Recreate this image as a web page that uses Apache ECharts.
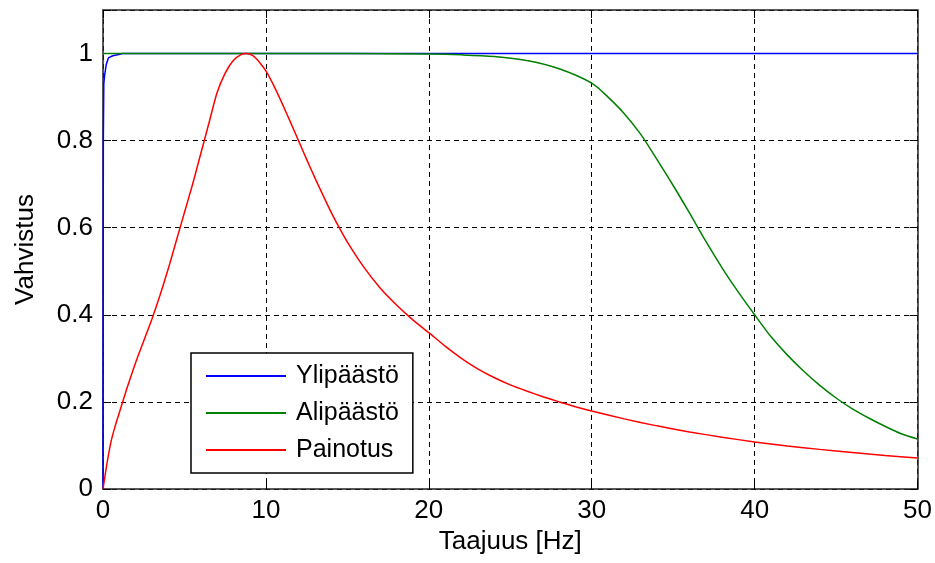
<!DOCTYPE html>
<html>
<head>
<meta charset="utf-8">
<script src="https://cdn.jsdelivr.net/npm/echarts@6/dist/echarts.min.js"></script>
<style>
html,body{margin:0;padding:0;background:#fff;}
#chart{width:935px;height:563px;}
</style>
</head>
<body>
<div id="chart"></div>
<script>
// ---- data ----
var seriesNames = ['Ylipäästö', 'Alipäästö', 'Painotus'];

var blueFreq = [0, 0.02, 0.05, 0.1, 0.2, 0.33, 0.6, 0.9, 1.2, 5, 10, 20, 30, 40, 50];
var blueGain = [0, 0.80, 0.93, 0.95, 0.975, 0.99, 0.995, 0.997, 1.0, 1.0, 1.0, 1.0, 1.0, 1.0, 1.0];

var greenFreq = [0, 5, 10, 15, 20, 22, 24, 26, 28, 30, 31, 32, 33, 34, 35, 36, 37, 38, 39, 40, 41, 42, 43, 44, 45, 46, 47, 48, 49, 50];
var greenGain = [1.0, 1.0, 1.0, 1.0, 0.999, 0.997, 0.993, 0.984, 0.965, 0.932, 0.9, 0.862, 0.815, 0.757, 0.697, 0.634, 0.569, 0.508, 0.452, 0.40, 0.35, 0.308, 0.271, 0.238, 0.209, 0.184, 0.163, 0.144, 0.127, 0.115];

var redFreq = [0, 0.25, 0.5, 0.75, 1.0, 1.25, 1.5, 2, 2.5, 3, 3.5, 4, 4.5, 5, 5.5, 6, 6.5, 7, 7.5, 8, 8.5, 8.8, 9.2, 9.6, 10, 10.5, 11, 11.5, 12, 12.5, 13, 13.5, 14, 14.5, 15, 16, 17, 18, 19, 20, 21, 22, 23, 24, 25, 26, 27, 28, 29, 30, 32, 34, 36, 38, 40, 42, 44, 46, 48, 50];
var redGain = [0, 0.06, 0.11, 0.145, 0.175, 0.205, 0.235, 0.29, 0.34, 0.39, 0.445, 0.505, 0.57, 0.635, 0.70, 0.77, 0.84, 0.91, 0.955, 0.984, 0.998, 1.0, 0.995, 0.98, 0.96, 0.925, 0.885, 0.843, 0.80, 0.757, 0.715, 0.675, 0.636, 0.60, 0.567, 0.51, 0.462, 0.423, 0.389, 0.359, 0.328, 0.30, 0.276, 0.256, 0.239, 0.225, 0.212, 0.200, 0.189, 0.179, 0.161, 0.145, 0.131, 0.119, 0.108, 0.099, 0.091, 0.084, 0.077, 0.071];

var xTitle = 'Taajuus [Hz]';
var yTitle = 'Vahvistus';

function pairs(xs, ys) {
  return xs.map(function (x, i) { return [x, ys[i]]; });
}

var FONT = '"Liberation Sans", Arial, sans-serif';
var chart = echarts.init(document.getElementById('chart'), null, {renderer: 'canvas'});

var gridLine = {show: true, lineStyle: {color: '#000', type: [5, 4], width: 1}};
var axisLine = {show: true, onZero: false, lineStyle: {color: '#222', width: 1.5}};

chart.setOption({
  animation: false,
  backgroundColor: '#fff',
  textStyle: {fontFamily: FONT},
  grid: {left: 103, right: 16, top: 10, bottom: 74, containLabel: false},
  legend: {
    data: seriesNames.map(function (n) { return {name: n, icon: 'rect'}; }),
    orient: 'vertical',
    left: 191,
    top: 353,
    padding: [10, 14, 10, 15],
    itemWidth: 80,
    itemHeight: 2,
    itemGap: 11,
    backgroundColor: '#fff',
    borderColor: '#000',
    borderWidth: 1.5,
    borderRadius: 0,
    textStyle: {fontFamily: FONT, fontSize: 25, lineHeight: 26, color: '#000', padding: [0, 0, 0, 5]}
  },
  xAxis: [{
    type: 'value', min: 0, max: 50, interval: 10, position: 'bottom',
    name: xTitle, nameLocation: 'middle', nameGap: 39,
    nameTextStyle: {fontFamily: FONT, fontSize: 26, color: '#000'},
    axisLine: axisLine,
    axisTick: {show: true, inside: true, length: 8, lineStyle: {color: '#000'}},
    axisLabel: {fontFamily: FONT, fontSize: 26, color: '#000', margin: 9},
    splitLine: gridLine
  }, {
    type: 'value', min: 0, max: 50, interval: 10, position: 'top',
    axisLine: axisLine,
    axisTick: {show: true, inside: true, length: 8, lineStyle: {color: '#000'}},
    axisLabel: {show: false},
    splitLine: {show: false}
  }],
  yAxis: [{
    type: 'value', min: 0, max: 1.1, interval: 0.2, position: 'left',
    name: yTitle, nameLocation: 'middle', nameGap: 64, nameRotate: 90,
    nameTextStyle: {fontFamily: FONT, fontSize: 26, color: '#000'},
    axisLine: axisLine,
    axisTick: {show: true, inside: true, length: 8, lineStyle: {color: '#000'}},
    axisLabel: {fontFamily: FONT, fontSize: 26, color: '#000', margin: 10,
      formatter: function (v) { return v > 1.05 ? '' : String(Math.round(v * 10) / 10); }},
    splitLine: gridLine
  }, {
    type: 'value', min: 0, max: 1.1, interval: 0.2, position: 'right',
    axisLine: axisLine,
    axisTick: {show: true, inside: true, length: 8, lineStyle: {color: '#000'}},
    axisLabel: {show: false},
    splitLine: {show: false}
  }],
  series: [{
    name: seriesNames[0], type: 'line', data: pairs(blueFreq, blueGain),
    showSymbol: false, symbol: 'none', z: 2,
    lineStyle: {color: '#0000ff', width: 1.5}, itemStyle: {color: '#0000ff'}
  }, {
    name: seriesNames[1], type: 'line', data: pairs(greenFreq, greenGain),
    showSymbol: false, symbol: 'none', smooth: 0.3, z: 3,
    lineStyle: {color: '#008000', width: 1.5}, itemStyle: {color: '#008000'}
  }, {
    name: seriesNames[2], type: 'line', data: pairs(redFreq, redGain),
    showSymbol: false, symbol: 'none', smooth: 0.2, z: 4,
    lineStyle: {color: '#ff0000', width: 1.5}, itemStyle: {color: '#ff0000'}
  }]
});
</script>
</body>
</html>
